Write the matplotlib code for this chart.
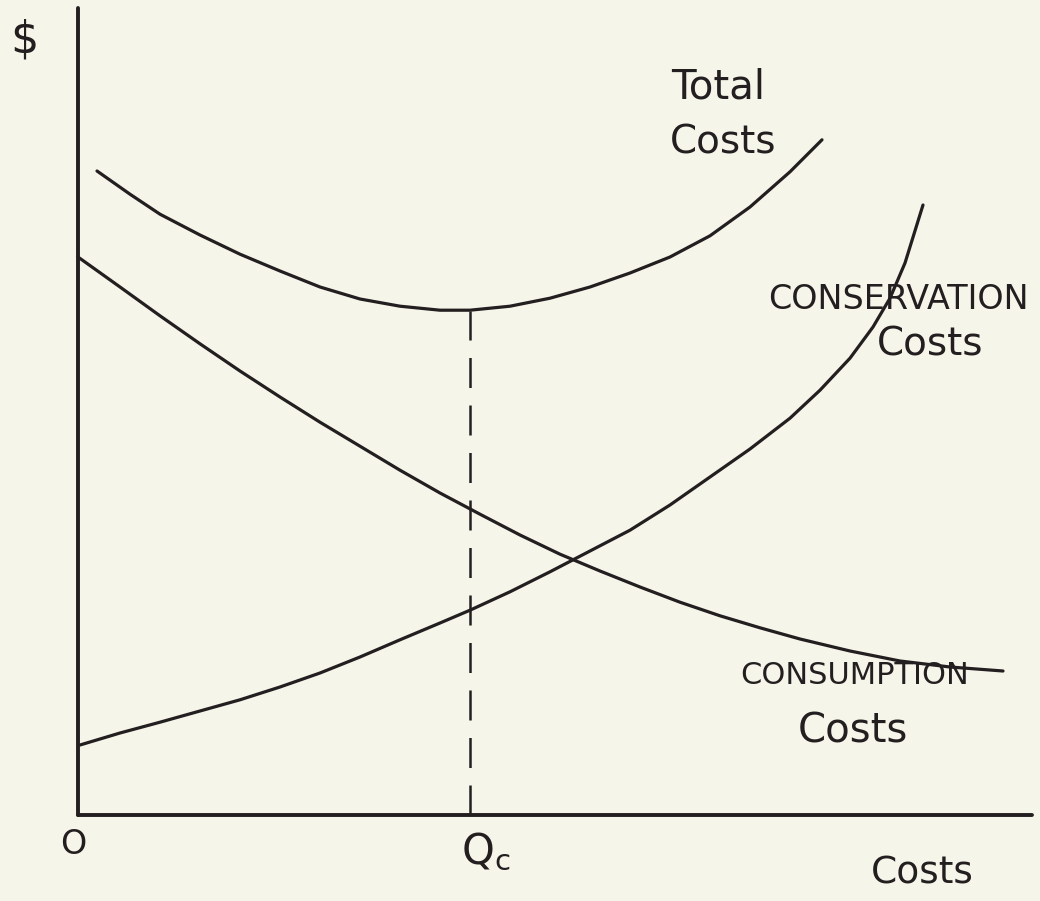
import matplotlib.pyplot as plt

# ---------------------------------
# Data
# ---------------------------------

# total costs
total_q = [1.9, 5.2, 8.2, 12.2, 16.2, 20.2, 24.2, 28.2, 32.2, 36.2, 39.2,
           43.2, 47.2, 51.2, 55.2, 59.2, 63.2, 67.2, 71.2, 74.4]
total_c = [80.5, 77.6, 75.1, 72.5, 70.1, 68.0, 66.0, 64.5, 63.6, 63.1, 63.1,
           63.6, 64.6, 66.0, 67.75, 69.75, 72.4, 76.0, 80.4, 84.4]

# conservation costs
cons_q = [0.2, 4.2, 8.2, 12.2, 16.2, 20.2, 24.2, 28.2, 32.2, 36.2, 39.2, 43.2, 47.2,
          51.2, 55.2, 59.2, 63.2, 67.2, 71.2, 74.2, 77.2, 79.5, 81.2, 82.7, 84.5]
cons_c = [8.75, 10.25, 11.6, 13.0, 14.4, 16.0, 17.75, 19.75, 21.9, 24.0, 25.6, 27.9, 30.4,
          33.0, 35.6, 38.75, 42.25, 45.75, 49.6, 53.1, 57.1, 61.0, 64.6, 69.0, 76.25]

# consumption costs
consum_q = [0, 4.2, 8.2, 12.2, 16.2, 20.2, 24.2, 28.2, 32.2, 36.2, 40.2, 44.2,
            48.2, 52.2, 56.2, 60.2, 64.2, 68.2, 72.2, 77.2, 82.2, 87.2, 92.5]
consum_c = [69.75, 66.0, 62.4, 58.9, 55.5, 52.25, 49.1, 46.1, 43.1, 40.25, 37.6, 35.0,
            32.6, 30.5, 28.5, 26.6, 24.9, 23.4, 22.0, 20.5, 19.25, 18.5, 18.0]

# optimum quantity
q_c = 39.2
q_c_cost = 63.0

bg = '#f6f5e9'
ink = '#231f20'

# ---------------------------------
# Figure
# ---------------------------------

fig = plt.figure(figsize=(10.4, 9.01), dpi=100)
fig.patch.set_facecolor(bg)
ax = fig.add_axes([0, 0, 1, 1])
ax.set_facecolor(bg)
ax.set_xlim(-7.8, 96.2)
ax.set_ylim(-10.75, 101.875)
ax.axis('off')

line_kw = dict(color=ink, solid_capstyle='round', solid_joinstyle='round')

# axes drawn by hand
ax.plot([0, 0], [0, 100.9], lw=2.8, **line_kw)
ax.plot([0, 95.4], [0, 0], lw=2.8, **line_kw)

# curves
ax.plot(total_q, total_c, lw=2.3, **line_kw)
ax.plot(cons_q, cons_c, lw=2.3, **line_kw)
ax.plot(consum_q, consum_c, lw=2.3, **line_kw)

# Qc guide
ax.plot([q_c, q_c], [0, q_c_cost], color=ink, lw=1.8, dashes=(12, 7))

# ---------------------------------
# Labels
# ---------------------------------

ax.text(-5.4, 96.9, '$', fontsize=32, color=ink, ha='center', va='center')
ax.text(-0.5, -3.75, 'O', fontsize=24, color=ink, ha='center', va='center')
ax.text(40.8, -4.6, r'Q$_\mathregular{c}$', fontsize=30, color=ink, ha='center', va='center')
ax.text(84.4, -7.25, 'Costs', fontsize=27, color=ink, ha='center', va='center')

ax.text(64.0, 90.9, 'Total', fontsize=29, color=ink, ha='center', va='center')
ax.text(64.5, 84.0, 'Costs', fontsize=28, color=ink, ha='center', va='center')

ax.text(82.0, 64.4, 'CONSERVATION', fontsize=24, color=ink, ha='center', va='center')
ax.text(85.2, 58.75, 'Costs', fontsize=28, color=ink, ha='center', va='center')

ax.text(77.7, 17.5, 'CONSUMPTION', fontsize=22, color=ink, ha='center', va='center')
ax.text(77.5, 10.4, 'Costs', fontsize=29, color=ink, ha='center', va='center')

fig.savefig('out.png', dpi=100, facecolor=bg)
